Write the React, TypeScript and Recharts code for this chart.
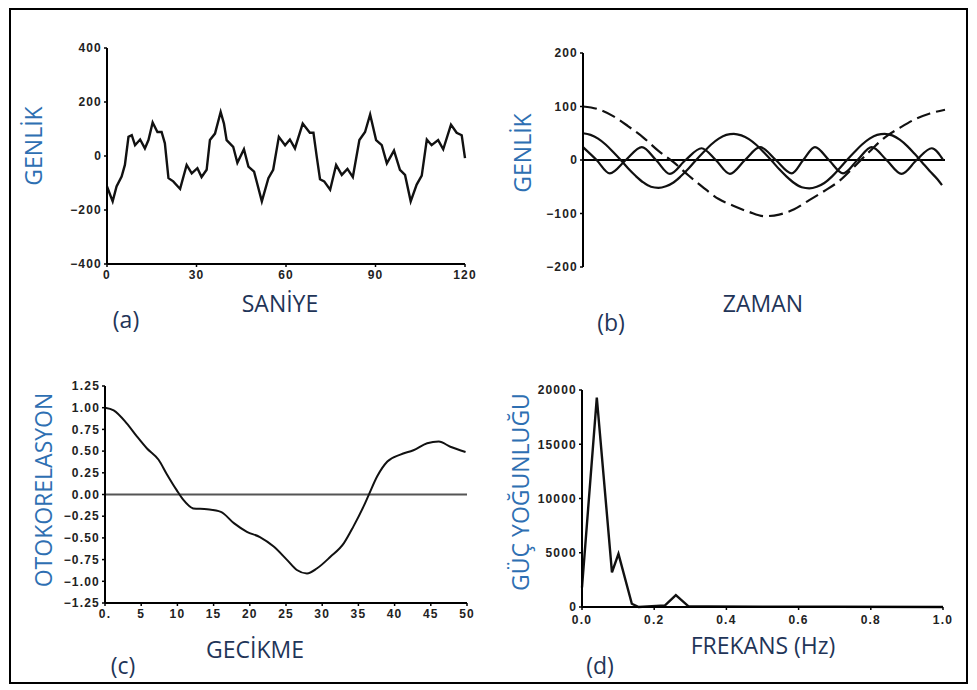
import React from "react";
import { LineChart, Line, XAxis, YAxis, ReferenceLine } from "recharts";

// (a) signal amplitude over seconds
const signalSeconds = [
  0, 1.9, 3.2, 4.9, 6.0, 7.2, 8.3, 9.4, 11.1, 12.7, 13.9, 15.3, 16.9, 18.3, 19.4, 20.6, 22.2, 24.5,
  26.7, 28.4, 30.3, 31.7, 33.4, 34.5, 36.2, 38.1, 39.2, 40.1, 42.3, 43.7, 45.9, 47.4, 49.3, 51.9,
  54.1, 55.7, 57.6, 59.7, 61.3, 63.0, 65.6, 68.0, 69.2, 70.3, 71.4, 72.8, 74.8, 76.8, 78.7, 80.6,
  82.4, 84.6, 86.5, 88.2, 90.2, 92.1, 93.8, 96.2, 98.2, 99.9, 101.8, 103.8, 105.5, 107.2, 108.8,
  111.0, 112.7, 115.3, 117.2, 118.9, 120.0,
];
const signalAmp = [
  -113, -168, -113, -76, -33, 71, 77, 40, 61, 28, 59, 124, 89, 89, 47, -82, -94, -122,
  -33, -64, -45, -78, -51, 59, 83, 163, 120, 59, 34, -25, 25, -39, -58, -168,
  -82, -51, 71, 40, 61, 28, 120, 86, 86, -2, -86, -94, -125, -33, -70, -48,
  -78, 59, 89, 154, 59, 40, -27, 20, -51, -70, -168, -106, -73, 61, 40,
  59, 25, 116, 86, 77, -8,
];
const secondTicks = [0, 30, 60, 90, 120];
const ampTicks = [-400, -200, 0, 200, 400];

// (b) component waves over time (no time ticks)
const slowWaveX = [0, 5, 10, 15, 20, 25, 30, 35, 40, 45, 50, 55, 60, 65, 70, 75, 80, 85, 90, 95, 100, 105, 110, 115, 120];
const slowWaveY = [100, 95, 82, 63, 42, 17, -4, -29, -52, -73, -86, -97, -105, -102, -92, -75, -58, -39, -12, 16, 42, 60, 76, 87, 94];
const midWaveX = [
  0, 2.5, 5, 7.5, 10, 12.5, 15, 17.5, 20, 22.5, 25, 27.5, 30, 32.5, 35, 37.5, 40, 42.5, 45, 47.5,
  50, 52.5, 55, 57.5, 60, 62.5, 65, 67.5, 70, 72.5, 75, 77.5, 80, 82.5, 85, 87.5, 90, 92.5, 95, 97.5,
  100, 102.5, 105, 107.5, 110, 112.5, 115, 117.5, 119,
];
const midWaveY = [
  50, 47, 40, 29, 15, 0, -16, -30, -42, -50, -52, -49, -42, -30, -16, 0, 15, 29, 40, 47,
  49, 46, 39, 28, 14, -1, -17, -31, -43, -51, -53, -50, -43, -31, -16, 0, 15, 29, 40, 47,
  49, 46, 38, 26, 11, -5, -21, -36, -47,
];
const fastWaveX = [
  0, 4.5, 8.9, 14.2, 19.5, 24.2, 28.8, 34, 39.3, 44, 48.7, 53.7, 58.7, 63.9, 69.2, 73, 76.9, 81.5,
  86.2, 91, 95.7, 100.6, 105.6, 110.6, 115.6, 119.4,
];
const fastWaveY = [24, 0, -25, 0, 24, 0, -26, 0, 22, 0, -26, 0, 24, 0, -25, 0, 24, 0, -25, 0, 24, 0, -26, 0, 22, 0];
const waveTicks = [-200, -100, 0, 100, 200];

// (c) autocorrelation vs lag
const lags = [
  0, 1.2, 3.0, 4.4, 5.8, 7.4, 8.5, 9.9, 10.8, 12.2, 14.1, 16.0, 17.8, 19.6, 21.4, 23.3, 25.1,
  26.5, 27.9, 29.3, 31.1, 33.0, 34.3, 35.7, 36.4, 37.6, 39.0, 40.8, 42.6, 44.5, 46.1, 47.7, 49.8,
];
const autocorr = [
  1.0, 0.97, 0.82, 0.67, 0.53, 0.4, 0.24, 0.05, -0.06, -0.16, -0.17, -0.2, -0.33, -0.43, -0.49, -0.6, -0.75,
  -0.87, -0.91, -0.85, -0.72, -0.56, -0.37, -0.14, -0.01, 0.21, 0.38, 0.46, 0.51, 0.59, 0.61, 0.55, 0.49,
];
const lagTicks = [0, 5, 10, 15, 20, 25, 30, 35, 40, 45, 50];
const corrTicks = [-1.25, -1, -0.75, -0.5, -0.25, 0, 0.25, 0.5, 0.75, 1, 1.25];

// (d) power spectral density
const freqs = [0, 0.041, 0.083, 0.101, 0.138, 0.157, 0.23, 0.26, 0.295, 0.35, 0.5, 0.7, 1.0];
const power = [1800, 19300, 3200, 4900, 300, 0, 150, 1100, 60, 50, 30, 20, 0];
const freqTicks = [0, 0.2, 0.4, 0.6, 0.8, 1.0];
const powerTicks = [0, 5000, 10000, 15000, 20000];

const signalData = signalSeconds.map((x, i) => ({ x, y: signalAmp[i] }));
const slowData = slowWaveX.map((x, i) => ({ x, y: slowWaveY[i] }));
const midData = midWaveX.map((x, i) => ({ x, y: midWaveY[i] }));
const fastData = fastWaveX.map((x, i) => ({ x, y: fastWaveY[i] }));
const corrData = lags.map((x, i) => ({ x, y: autocorr[i] }));
const powerData = freqs.map((x, i) => ({ x, y: power[i] }));

const tick = {
  fontSize: 12,
  fontWeight: 700,
  fill: "#222",
  fontFamily: "'Liberation Sans', Arial, sans-serif",
  letterSpacing: 1.2,
};
const axisLine = { stroke: "#000", strokeWidth: 2 };
const tickLine = { stroke: "#000", strokeWidth: 1.5 };

const minus = (v: number, s: string) => (v < 0 ? "\u2212" + s.replace("-", "") : s);

const hLabel = { color: "#1f3558", fontSize: 23 };
const vLabel = { color: "#2e6fb2", fontSize: 23 };

function Label({ x, y, text, vertical, style }: any) {
  return (
    <div
      style={{
        position: "absolute",
        left: x,
        top: y,
        whiteSpace: "nowrap",
        lineHeight: 1,
        fontFamily: "'Open Sans', sans-serif",
        transform: vertical ? "translate(-50%,-50%) rotate(-90deg)" : "translate(-50%,-50%)",
        ...style,
      }}
    >
      {text}
    </div>
  );
}

export default function App() {
  return (
    <div style={{ position: "absolute", left: 0, top: 0, width: 977, height: 690, background: "#fff", overflow: "hidden" }}>
      <div
        style={{
          position: "absolute",
          left: 9,
          top: 8,
          width: 959,
          height: 676,
          border: "2px solid #000",
          boxSizing: "border-box",
        }}
      />

      {/* (a) */}
      <div style={{ position: "absolute", left: 50, top: 38 }}>
        <LineChart width={440} height={256} data={signalData} margin={{ top: 10, right: 25, bottom: 0, left: 0 }}>
          <XAxis
            dataKey="x"
            type="number"
            domain={[0, 120]}
            ticks={secondTicks}
            interval={0}
            tick={tick}
            tickSize={3}
            tickMargin={3}
            axisLine={axisLine}
            tickLine={tickLine}
          />
          <YAxis
            type="number"
            domain={[-400, 400]}
            ticks={ampTicks}
            interval={0}
            width={57}
            tick={tick}
            tickSize={3}
            tickMargin={2}
            axisLine={axisLine}
            tickLine={tickLine}
            tickFormatter={(v: number) => minus(v, String(v))}
          />
          <Line dataKey="y" type="linear" stroke="#111" strokeWidth={2.4} dot={false} activeDot={false} isAnimationActive={false} />
        </LineChart>
      </div>

      {/* (b) */}
      <div style={{ position: "absolute", left: 538, top: 43 }}>
        <LineChart width={417} height={234} margin={{ top: 10, right: 10, bottom: 10, left: 0 }}>
          <XAxis dataKey="x" type="number" domain={[0, 120]} hide />
          <YAxis
            type="number"
            domain={[-200, 200]}
            ticks={waveTicks}
            interval={0}
            width={45}
            tick={tick}
            tickSize={3}
            tickMargin={2}
            axisLine={axisLine}
            tickLine={tickLine}
            tickFormatter={(v: number) => minus(v, String(v))}
          />
          <ReferenceLine y={0} stroke="#000" strokeWidth={2} />
          <Line data={slowData} dataKey="y" type="monotone" stroke="#111" strokeWidth={2.2} strokeDasharray="14 6" dot={false} activeDot={false} isAnimationActive={false} />
          <Line data={midData} dataKey="y" type="monotone" stroke="#111" strokeWidth={2.2} dot={false} activeDot={false} isAnimationActive={false} />
          <Line data={fastData} dataKey="y" type="monotone" stroke="#111" strokeWidth={2.2} dot={false} activeDot={false} isAnimationActive={false} />
        </LineChart>
      </div>

      {/* (c) */}
      <div style={{ position: "absolute", left: 45, top: 376 }}>
        <LineChart width={447} height={257} data={corrData} margin={{ top: 10, right: 25, bottom: 0, left: 0 }}>
          <XAxis
            dataKey="x"
            type="number"
            domain={[0, 50]}
            ticks={lagTicks}
            interval={0}
            tick={tick}
            tickSize={3}
            tickMargin={3}
            axisLine={axisLine}
            tickLine={tickLine}
            tickFormatter={(v: number) => (v === 0 ? "0." : String(v))}
          />
          <YAxis
            type="number"
            domain={[-1.25, 1.25]}
            ticks={corrTicks}
            interval={0}
            width={60}
            tick={tick}
            tickSize={3}
            tickMargin={2}
            axisLine={axisLine}
            tickLine={tickLine}
            tickFormatter={(v: number) => minus(v, v.toFixed(2))}
          />
          <ReferenceLine y={0} stroke="#555" strokeWidth={2} />
          <Line dataKey="y" type="monotone" stroke="#111" strokeWidth={2} dot={false} activeDot={false} isAnimationActive={false} />
        </LineChart>
      </div>

      {/* (d) */}
      <div style={{ position: "absolute", left: 522, top: 380 }}>
        <LineChart width={441} height={257} data={powerData} margin={{ top: 10, right: 20, bottom: 0, left: 0 }}>
          <XAxis
            dataKey="x"
            type="number"
            domain={[0, 1]}
            ticks={freqTicks}
            interval={0}
            tick={tick}
            tickSize={3}
            tickMargin={5}
            axisLine={axisLine}
            tickLine={tickLine}
            tickFormatter={(v: number) => v.toFixed(1)}
          />
          <YAxis
            type="number"
            domain={[0, 20000]}
            ticks={powerTicks}
            interval={0}
            width={60}
            tick={tick}
            tickSize={3}
            tickMargin={2}
            axisLine={axisLine}
            tickLine={tickLine}
          />
          <Line dataKey="y" type="linear" stroke="#111" strokeWidth={2.4} dot={false} activeDot={false} isAnimationActive={false} />
        </LineChart>
      </div>

      <Label x={33} y={146} text="GENLİK" vertical style={vLabel} />
      <Label x={280} y={303} text="SANİYE" style={hLabel} />
      <Label x={126} y={319} text="(a)" style={hLabel} />

      <Label x={522} y={153} text="GENLİK" vertical style={vLabel} />
      <Label x={763} y={303} text="ZAMAN" style={hLabel} />
      <Label x={611} y={322} text="(b)" style={hLabel} />

      <Label x={43} y={490} text="OTOKORELASYON" vertical style={vLabel} />
      <Label x={255} y={649} text="GECİKME" style={hLabel} />
      <Label x={123} y={665} text="(c)" style={hLabel} />

      <Label x={520} y={492} text="GÜÇ YOĞUNLUĞU" vertical style={vLabel} />
      <Label x={763} y={645} text="FREKANS (Hz)" style={hLabel} />
      <Label x={600} y={665} text="(d)" style={hLabel} />
    </div>
  );
}
